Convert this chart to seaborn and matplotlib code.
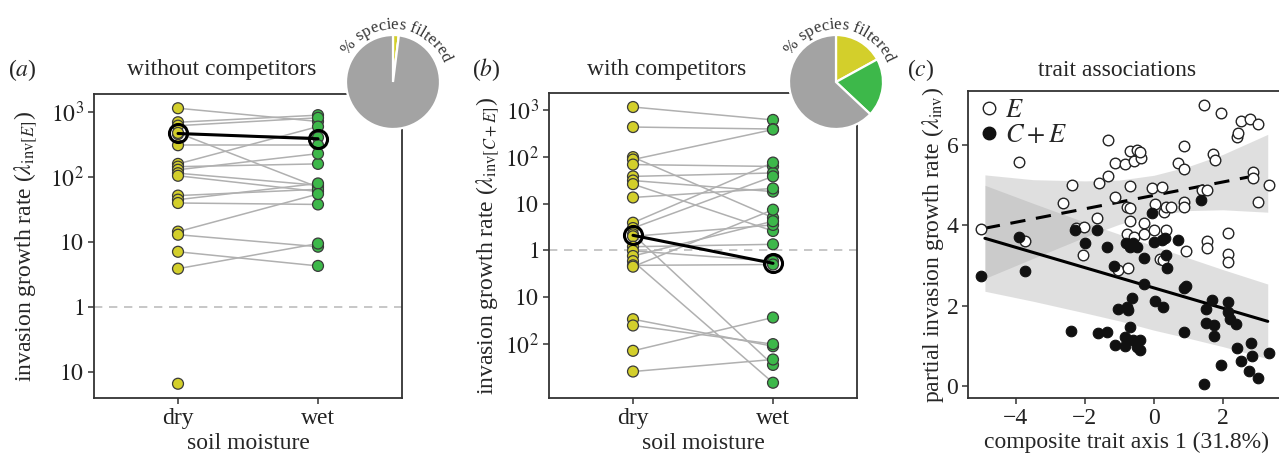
import numpy as np
import pandas as pd
import matplotlib
matplotlib.use("Agg")
import matplotlib.pyplot as plt
import seaborn as sns
from matplotlib.lines import Line2D

# ============================================================
# Data
# ============================================================

MOISTURE = ["dry", "wet"]

# (a) without competitors: paired species values, dry -> wet
dry_a = [1150, 700, 620, 460, 480, 310, 160, 145, 130, 115, 105, 52, 45, 40, 14.5, 13, 7.1, 3.9, 0.066]
wet_a = [720, 900, 820, 410, 70, 310, 600, 160, 230, 75, 60, 65, 80, 38, 55, 8.5, 4.3, 9.5, np.nan]
mean_a = [470, 390]

# (b) with competitors
dry_b = [1150, 430, 98, 87, 68, 38, 31, 26, 13.5, 3.9, 3.0, 2.2, 2.0, 1.2, 0.98,
         0.76, 0.59, 0.48, 0.45, 0.034, 0.025, 0.0072, 0.0026]
wet_b = [610, 390, 5.0, 380, 62, 45, 18, 2.6, 21, 75, 38, 0.0036, 3.5, 1.35, 0.59,
         4.2, 0.0015, 0.5, 7.4, 0.009, 0.01, 0.037, 0.0047]
mean_b = [2.1, 0.53]

# % species filtered: dry, wet, not filtered
pie_a = [2, 0, 98]
pie_b = [17, 20, 63]

ytick_vals = [1e3, 1e2, 10, 1, 0.1, 0.01]
ytick_labels = [r"$10^3$", r"$10^2$", r"$10$", r"$1$", r"$10$", r"$10^2$"]

# (c) trait associations
e_x = [-5.02, -3.91, -3.74, -2.63, -2.37, -2.27, -2.02, -2.05, -1.60, -1.64, -1.34, -1.34,
       -1.13, -1.13, -1.04, -0.83, -0.74, -0.68, -0.57, -0.48, -0.37, -0.41, -0.70, -0.78,
       -0.68, -0.70, -0.79, -0.57, -0.29, -0.29, -0.05, 0.03, 0.01, 0.22, 0.30, 0.34,
       0.49, 0.34, 0.19, 0.27, 0.69, 0.87, 0.88, 0.88, 0.93, 0.87, 1.44, 1.38, 1.53,
       1.55, 1.53, 1.70, 1.76, 1.94, 2.16, 2.16, 2.16, 2.40, 2.43, 2.52, 2.79, 3.03,
       2.88, 2.88, 3.03, 3.35]
e_y = [3.90, 5.57, 3.61, 4.57, 5.02, 3.94, 3.95, 3.26, 5.06, 4.19, 6.14, 5.23,
       5.56, 4.70, 2.88, 5.52, 2.93, 5.85, 5.61, 5.88, 5.69, 5.83, 4.99, 4.47,
       4.43, 4.12, 3.78, 3.72, 4.06, 3.78, 4.94, 4.54, 3.88, 4.95, 4.34, 4.46,
       4.46, 3.88, 3.17, 3.14, 5.55, 5.41, 5.97, 4.59, 3.36, 4.46, 7.01, 4.88, 4.88,
       3.61, 3.43, 5.77, 5.63, 6.79, 3.82, 3.30, 3.10, 6.21, 6.31, 6.61, 6.65, 6.52,
       5.34, 5.17, 4.59, 5.02]
ce_x = [-5.02, -3.91, -3.74, -2.39, -2.30, -2.00, -1.61, -1.64, -1.35, -1.35, -1.15, -1.13,
        -1.04, -0.79, -0.74, -0.81, -0.70, -0.60, -0.50, -0.63, -0.70, -0.83, -0.83, -0.60,
        -0.48, -0.39, -0.39, -0.29, -0.28, -0.05, 0.00, 0.03, 0.22, 0.32, 0.34, 0.37,
        0.25, 0.69, 0.87, 0.93, 0.87, 1.36, 1.51, 1.51, 1.67, 1.74, 1.74, 1.45, 1.94,
        2.16, 2.14, 2.21, 2.38, 2.42, 2.52, 2.81, 2.84, 2.77, 3.03, 3.35]
ce_y = [2.74, 3.72, 2.87, 1.37, 3.88, 3.55, 1.31, 3.88, 1.35, 3.47, 2.99, 1.02,
        1.93, 1.98, 1.89, 3.55, 3.47, 3.55, 3.47, 2.18, 1.48, 1.21, 1.00, 1.15,
        0.98, 1.15, 0.90, 3.20, 2.53, 4.30, 3.59, 2.12, 3.63, 3.68, 3.26, 2.95,
        1.98, 3.63, 2.43, 2.49, 1.35, 4.63, 1.93, 1.56, 2.14, 1.52, 1.25, 0.04, 0.52,
        2.08, 1.85, 1.66, 1.54, 0.95, 0.62, 1.06, 0.75, 0.37, 0.19, 0.83]

# fitted lines and confidence bands
e_fit_x = [-4.9, 3.0]
e_fit_y = [3.93, 5.25]
ce_fit_x = [-4.9, 3.3]
ce_fit_y = [3.68, 1.61]
band_x = [-4.9, -3.5, -2.0, -1.0, 0.0, 1.0, 2.0, 3.3]
e_lo = [2.68, 3.18, 3.71, 4.03, 4.25, 4.37, 4.39, 4.33]
e_hi = [5.26, 5.14, 5.11, 5.13, 5.25, 5.47, 5.77, 6.27]
ce_lo = [2.36, 2.11, 1.82, 1.62, 1.39, 1.19, 0.98, 0.68]
ce_hi = [5.00, 4.55, 4.08, 3.78, 3.49, 3.19, 2.90, 2.54]

# ============================================================
# Style
# ============================================================

YELLOW = "#d3cf2b"
GREEN = "#3db84a"
GREY_PIE = "#a3a3a3"
LINE_GREY = "#b0b0b0"
SPINE = "#333333"
FS = 17

sns.set_theme(style="ticks")
plt.rcParams["font.family"] = ["Liberation Serif", "DejaVu Serif"]
plt.rcParams["mathtext.fontset"] = "stix"
plt.rcParams["axes.edgecolor"] = SPINE
plt.rcParams["axes.linewidth"] = 1.3
plt.rcParams["xtick.color"] = SPINE
plt.rcParams["ytick.color"] = SPINE
plt.rcParams["xtick.labelcolor"] = "#222222"
plt.rcParams["ytick.labelcolor"] = "#222222"

W, H = 1279, 457
fig = plt.figure(figsize=(W / 100, H / 100), dpi=100)


def px_axes(x0, y0, x1, y1):
    return fig.add_axes([x0 / W, 1 - y1 / H, (x1 - x0) / W, (y1 - y0) / H])


def long_form(dry, wet):
    n = len(dry)
    return pd.DataFrame({
        "species": list(range(n)) * 2,
        "pos": [0] * n + [1] * n,
        "moisture": ["dry"] * n + ["wet"] * n,
        "value": list(dry) + list(wet),
    })


def paired_panel(ax, dry, wet, mean, ylim, ylabel, label_x):
    df = long_form(dry, wet).dropna()
    ax.set_yscale("log")
    ax.axhline(1, color="#bdbdbd", linestyle=(0, (5, 4)), linewidth=1.2, zorder=1)
    sns.lineplot(data=df, x="pos", y="value", units="species", estimator=None,
                 color=LINE_GREY, linewidth=1.1, ax=ax, legend=False, zorder=2)
    sns.scatterplot(data=df, x="pos", y="value", hue="moisture",
                    palette={"dry": YELLOW, "wet": GREEN}, s=62, edgecolor="#3a3a3a",
                    linewidth=0.9, ax=ax, legend=False, zorder=3)
    ax.plot([0, 1], mean, color="black", linewidth=2.2, marker="o", markersize=13,
            markerfacecolor="none", markeredgewidth=2.2, zorder=4)
    ax.set_xticks([0, 1])
    ax.set_xticklabels(MOISTURE)
    ax.set_yticks(ytick_vals)
    ax.set_yticklabels(ytick_labels)
    ax.minorticks_off()
    ax.set_xlim(-0.6, 1.6)
    ax.set_ylim(*ylim)
    ax.tick_params(labelsize=FS, length=4, width=1.1, pad=3)
    ax.set_xlabel("soil moisture", fontsize=FS, labelpad=3)
    ax.set_ylabel(ylabel, fontsize=FS)
    ax.yaxis.set_label_coords(label_x, 0.5)


def arc_text(pie_ax, text, radius_px, center_deg, fontsize):
    fig.canvas.draw()
    renderer = fig.canvas.get_renderer()
    widths = []
    for ch in text:
        if ch == " ":
            widths.append(0.25 * fontsize * 100 / 72)
            continue
        t = fig.text(0, 0, ch, fontsize=fontsize)
        widths.append(t.get_window_extent(renderer).width)
        t.remove()
    cx, cy = pie_ax.transData.transform((0, 0))
    total = sum(widths) / radius_px
    ang = np.deg2rad(center_deg) + total / 2
    for ch, w in zip(text, widths):
        a = ang - (w / 2) / radius_px
        x = cx + radius_px * np.cos(a)
        y = cy + radius_px * np.sin(a)
        fig.text(x / W, y / H, ch, fontsize=fontsize, rotation=np.rad2deg(a) - 90,
                 rotation_mode="anchor", ha="center", va="baseline", color="#333333")
        ang -= w / radius_px


def pie_inset(cx, cy, r, values):
    pax = px_axes(cx - r, cy - r, cx + r, cy + r)
    pax.pie(values, colors=[YELLOW, GREEN, GREY_PIE], startangle=90, counterclock=False,
            radius=1, wedgeprops=dict(edgecolor="white", linewidth=1.6))
    pax.set_xlim(-1, 1)
    pax.set_ylim(-1, 1)
    pax.set_aspect("equal")
    pax.axis("off")
    return pax


# ============================================================
# Panels
# ============================================================

ax_a = px_axes(94, 94, 402, 398)
paired_panel(ax_a, dry_a, wet_a, mean_a, (10 ** -1.4, 10 ** 3.28),
             r"invasion growth rate ($\lambda_{\mathrm{inv}[E]}$)", -0.18)

ax_b = px_axes(549, 93, 857, 398)
paired_panel(ax_b, dry_b, wet_b, mean_b, (10 ** -3.15, 10 ** 3.36),
             r"invasion growth rate ($\lambda_{\mathrm{inv}[C+E]}$)", -0.155)

ax_c = px_axes(968, 91, 1285, 398)
ax_c.fill_between(band_x, e_lo, e_hi, color="#a8a8a8", alpha=0.36, linewidth=0, zorder=1)
ax_c.fill_between(band_x, ce_lo, ce_hi, color="#a8a8a8", alpha=0.36, linewidth=0, zorder=1)
ax_c.plot(e_fit_x, e_fit_y, color="black", linewidth=2.2, linestyle=(0, (5, 3.5)), zorder=2)
ax_c.plot(ce_fit_x, ce_fit_y, color="black", linewidth=2.2, zorder=2)
sns.scatterplot(x=e_x, y=e_y, s=58, facecolor="white", edgecolor="#222222", linewidth=1.0,
                ax=ax_c, zorder=3)
sns.scatterplot(x=ce_x, y=ce_y, s=58, color="#111111", edgecolor="#111111", linewidth=0.8,
                ax=ax_c, zorder=4)
ax_c.set_xticks([-4, -2, 0, 2])
ax_c.set_xticklabels(["\u22124", "\u22122", "0", "2"])
ax_c.set_yticks([0, 2, 4, 6])
ax_c.set_xlim(-5.39, 3.80)
ax_c.set_ylim(-0.3, 7.35)
ax_c.tick_params(labelsize=FS, length=4, width=1.1, pad=3)
ax_c.set_xlabel("composite trait axis 1 (31.8%)", fontsize=FS, labelpad=2)
ax_c.set_ylabel(r"partial invasion growth rate ($\lambda_{\mathrm{inv}}$)", fontsize=FS)
ax_c.yaxis.set_label_coords(-0.07, 0.5)
handles = [
    Line2D([], [], marker="o", linestyle="none", markersize=9, markerfacecolor="white",
           markeredgecolor="#222222", markeredgewidth=1.0),
    Line2D([], [], marker="o", linestyle="none", markersize=9, markerfacecolor="#111111",
           markeredgecolor="#111111"),
]
ax_c.legend(handles, [r"$E$", r"$C+E$"], loc="upper left", frameon=False, fontsize=19,
            handletextpad=0.1, borderaxespad=0.1, labelspacing=0.05, handlelength=1.0,
            borderpad=0.2)

# titles and panel labels
for x, s in [(222, "without competitors"), (667, "with competitors"), (1117, "trait associations")]:
    fig.text(x / W, 1 - 70 / H, s, fontsize=FS, ha="center", va="center")
for x, s in [(22, "(a)"), (486, "(b)"), (921, "(c)")]:
    fig.text(x / W, 1 - 70 / H, s.replace(s[1], "$" + s[1] + "$"), fontsize=FS,
             ha="center", va="center")

# pies with curved captions
pax_a = pie_inset(393, 82, 47, pie_a)
pax_b = pie_inset(836, 82, 47, pie_b)
arc_text(pax_a, "% species filtered", 53, 85, 12)
arc_text(pax_b, "% species filtered", 53, 85, 12)

fig.savefig("out.png", dpi=100)
